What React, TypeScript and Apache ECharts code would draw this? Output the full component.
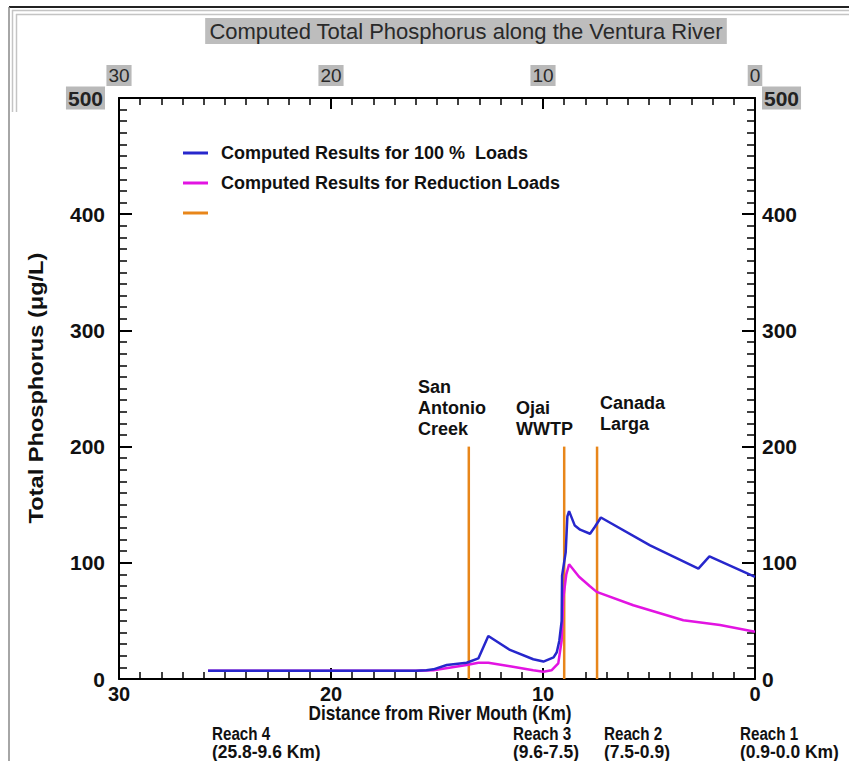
import React, { useEffect, useRef } from "react";
import * as echarts from "echarts";

const titleText = "Computed Total Phosphorus along the Ventura River";
const xAxisName = "Distance from River Mouth (Km)";
const yAxisName = "Total Phosphorus (\u03bcg/L)";

const seriesNames = [
  "Computed Results for 100 %  Loads",
  "Computed Results for Reduction Loads",
  " ",
];

// [distance km, total phosphorus ug/L]
const fullLoads: number[][] = [
  [25.8, 7], [22, 7], [18, 7], [16, 7], [15.5, 7.5], [15.17, 8.3], [14.54, 12],
  [13.6, 14], [13.05, 17.7], [12.58, 37], [11.56, 25], [10.46, 17], [9.98, 15],
  [9.5, 18.6], [9.35, 23], [9.23, 33], [9.12, 50], [9.1, 89], [8.93, 109],
  [8.85, 140], [8.77, 144.5], [8.5, 132], [8.25, 128.5], [7.78, 125], [7.55, 131],
  [7.27, 139], [4.95, 115], [2.67, 95], [2.15, 105.6], [0, 87.8],
];

const reducedLoads: number[][] = [
  [25.8, 7], [16, 7], [15.17, 7.5], [13.6, 12], [13.05, 14], [12.58, 14],
  [11.56, 11], [10.46, 7.5], [9.98, 6.3], [9.6, 7.5], [9.28, 13.5], [9.12, 33],
  [9.04, 70], [8.9, 90], [8.77, 98.7], [8.3, 88], [7.8, 80], [7.47, 75],
  [5.74, 63.5], [3.38, 50.6], [1.65, 46.4], [0, 40.6],
];

const tributaryNames = ["San\nAntonio\nCreek", "Ojai\nWWTP", "Canada\nLarga"];
const tributaryKm = [13.5, 9.0, 7.45];
const tributaryTop = 200;

const reachNames = ["Reach 4", "Reach 3", "Reach 2", "Reach 1"];
const reachRanges = ["(25.8-9.6 Km)", "(9.6-7.5)", "(7.5-0.9)", "(0.9-0.0 Km)"];

const BOLD = "'Liberation Sans', Arial, sans-serif";

export default function App() {
  const ref = useRef<HTMLDivElement>(null);
  useEffect(() => {
    if (!ref.current) return;
    const chart = echarts.init(ref.current, undefined, { renderer: "svg" });

    const axisLine = { show: true, onZero: false, lineStyle: { color: "#000", width: 2 } };
    const tickStyle = { color: "#000", width: 2 };

    const xCommon = {
      type: "value" as const,
      min: 0,
      max: 30,
      interval: 10,
      inverse: true,
      axisLine,
      axisTick: { show: true, inside: true, length: 11, lineStyle: tickStyle },
      minorTick: { show: true, splitNumber: 10, length: 7, lineStyle: { color: "#000", width: 1.5 } },
      splitLine: { show: false },
    };
    const yCommon = {
      type: "value" as const,
      min: 0,
      max: 500,
      interval: 100,
      axisLine,
      axisTick: { show: true, inside: true, length: 13, lineStyle: tickStyle },
      minorTick: { show: true, splitNumber: 10, length: 8, lineStyle: { color: "#000", width: 1.5 } },
      splitLine: { show: false },
    };
    const yLabelRich = {
      g: {
        backgroundColor: "#b9b9b9",
        color: "#222",
        fontFamily: BOLD,
        fontWeight: "bold",
        fontSize: 21,
        padding: [1, 2],
      },
    };

    const tribSeries = tributaryKm.map((km) => ({
      name: seriesNames[2],
      type: "line",
      data: [[km, 0], [km, tributaryTop]],
      symbol: "none",
      lineStyle: { color: "#e8861a", width: 2.5 },
      itemStyle: { color: "#e8861a" },
      z: 1,
    }));

    const graphic: any[] = [
      // window frame decorations
      { type: "line", shape: { x1: 9, y1: 7, x2: 849, y2: 7 }, style: { stroke: "#222", lineWidth: 2 } },
      { type: "line", shape: { x1: 12, y1: 10.5, x2: 849, y2: 10.5 }, style: { stroke: "#c4c4c4", lineWidth: 1.5 } },
      { type: "line", shape: { x1: 16, y1: 14.5, x2: 849, y2: 14.5 }, style: { stroke: "#c4c4c4", lineWidth: 1.5 } },
      { type: "line", shape: { x1: 9, y1: 7, x2: 9, y2: 761 }, style: { stroke: "#888", lineWidth: 1.5 } },
      { type: "line", shape: { x1: 12.5, y1: 10, x2: 12.5, y2: 112 }, style: { stroke: "#c4c4c4", lineWidth: 1.5 } },
      { type: "line", shape: { x1: 16.5, y1: 14, x2: 16.5, y2: 112 }, style: { stroke: "#c4c4c4", lineWidth: 1.5 } },
      // title
      {
        type: "text",
        x: 466,
        y: 31,
        style: {
          text: titleText,
          textAlign: "center",
          textVerticalAlign: "middle",
          font: `22px ${BOLD}`,
          fill: "#2a2a2a",
          backgroundColor: "#bdbdbd",
          padding: [2, 4],
        },
      },
      // y axis name
      {
        type: "text",
        x: 36,
        y: 388,
        rotation: Math.PI / 2,
        scaleX: 1.18,
        style: {
          text: yAxisName,
          textAlign: "center",
          textVerticalAlign: "middle",
          font: `bold 20px ${BOLD}`,
          fill: "#111",
        },
      },
      // x axis name
      {
        type: "text",
        x: 440,
        y: 713,
        scaleX: 0.82,
        style: {
          text: xAxisName,
          textAlign: "center",
          textVerticalAlign: "middle",
          font: `bold 21px ${BOLD}`,
          fill: "#111",
        },
      },
    ];

    const tribLabelPos = [
      [418, 376],
      [516, 397],
      [600, 392],
    ];
    tributaryNames.forEach((t, i) => {
      graphic.push({
        type: "text",
        x: tribLabelPos[i][0],
        y: tribLabelPos[i][1],
        style: {
          text: t,
          font: `bold 18px ${BOLD}`,
          lineHeight: 21,
          fill: "#111",
          textAlign: "left",
          textVerticalAlign: "top",
        },
      });
    });

    const reachX = [212, 513, 604, 740];
    reachNames.forEach((r, i) => {
      graphic.push({
        type: "text",
        x: reachX[i],
        y: 733,
        scaleX: 0.8,
        style: {
          text: r,
          font: `bold 19px ${BOLD}`,
          fill: "#111",
          textAlign: "left",
          textVerticalAlign: "middle",
        },
      });
      graphic.push({
        type: "text",
        x: reachX[i],
        y: 752,
        scaleX: 0.97,
        style: {
          text: reachRanges[i],
          font: `bold 18px ${BOLD}`,
          fill: "#111",
          textAlign: "left",
          textVerticalAlign: "middle",
        },
      });
    });

    chart.setOption({
      animation: false,
      backgroundColor: "#fff",
      grid: { left: 119, top: 98, width: 636, height: 581, containLabel: false },
      legend: {
        orient: "vertical",
        left: 183,
        top: 144,
        padding: 0,
        itemWidth: 25,
        itemHeight: 3,
        itemGap: 12,
        icon: "rect",
        data: seriesNames,
        textStyle: {
          fontFamily: BOLD,
          fontWeight: "bold",
          fontSize: 18,
          color: "#111",
          padding: [0, 0, 0, 8],
        },
      },
      xAxis: [
        {
          ...xCommon,
          position: "bottom",
          axisLabel: { fontFamily: BOLD, fontWeight: "bold", fontSize: 20, color: "#111", margin: 5 },
        },
        {
          ...xCommon,
          position: "top",
          axisLabel: {
            fontFamily: BOLD,
            fontSize: 19,
            color: "#2a2a2a",
            margin: 12,
            backgroundColor: "#b9b9b9",
            padding: [1, 2],
          },
        },
      ],
      yAxis: [
        {
          ...yCommon,
          position: "left",
          axisLabel: {
            fontFamily: BOLD,
            fontWeight: "bold",
            fontSize: 21,
            color: "#111",
            margin: 14,
            formatter: (v: number) => (v === 500 ? `{g|${v}}` : `${v}`),
            rich: yLabelRich,
          },
        },
        {
          ...yCommon,
          position: "right",
          axisLabel: {
            fontFamily: BOLD,
            fontWeight: "bold",
            fontSize: 21,
            color: "#111",
            margin: 7,
            formatter: (v: number) => (v === 500 ? `{g|${v}}` : `${v}`),
            rich: yLabelRich,
          },
        },
      ],
      series: [
        {
          name: seriesNames[0],
          type: "line",
          data: fullLoads,
          symbol: "none",
          lineStyle: { color: "#2727cc", width: 2.5 },
          itemStyle: { color: "#2727cc" },
          z: 3,
        },
        {
          name: seriesNames[1],
          type: "line",
          data: reducedLoads,
          symbol: "none",
          lineStyle: { color: "#e214e2", width: 2.5 },
          itemStyle: { color: "#e214e2" },
          z: 2,
        },
        ...tribSeries,
      ],
      graphic,
    });
    return () => chart.dispose();
  }, []);

  return (
    <div
      ref={ref}
      style={{ position: "absolute", left: 0, top: 0, width: 849, height: 761, background: "#fff" }}
    />
  );
}
